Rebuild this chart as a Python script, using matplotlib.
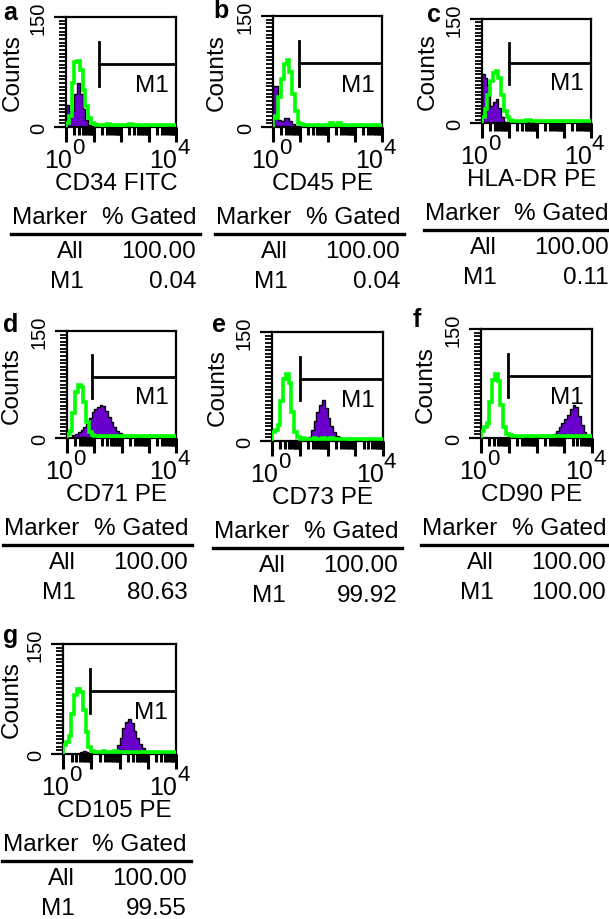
import numpy as np
import matplotlib
matplotlib.use("Agg")
import matplotlib.pyplot as plt
from matplotlib.lines import Line2D
from matplotlib.ticker import FixedLocator, LogLocator, MultipleLocator, NullFormatter
from matplotlib.transforms import blended_transform_factory

plt.rcParams["font.family"] = ["Liberation Sans", "DejaVu Sans"]

# panel contents
letters = ["a", "b", "c", "d", "e", "f", "g"]
antibodies = ["CD34 FITC", "CD45 PE", "HLA-DR PE", "CD71 PE", "CD73 PE", "CD90 PE", "CD105 PE"]
gated_all = ["100.00", "100.00", "100.00", "100.00", "100.00", "100.00", "100.00"]
gated_m1 = ["0.04", "0.04", "0.11", "80.63", "99.92", "100.00", "99.55"]
gate_m1 = [16, 9.3, 10, 8, 10, 9.5, 9.3]  # M1 gate start (channel)

# histogram counts, 40 bins of 0.1 decade from 10^0 to 10^4
purple_a = [30, 22, 22, 45, 60, 45, 25, 10, 3, 1, 0, 1, 0, 0, 0, 0, 1, 0, 0, 0,
            0, 0, 0, 0, 0, 0, 0, 0, 0, 0, 0, 0, 0, 0, 0, 0, 0, 0, 0, 0]
green_a = [5, 15, 60, 88, 90, 78, 50, 28, 12, 5, 4, 3, 3, 2, 3, 4, 3, 2, 3, 3,
           2, 3, 3, 4, 3, 2, 3, 3, 2, 3, 3, 3, 2, 3, 3, 2, 3, 3, 3, 3]
purple_b = [56, 55, 10, 8, 12, 12, 8, 4, 2, 1, 0, 0, 0, 0, 0, 0, 0, 0, 0, 0,
            0, 0, 0, 0, 0, 0, 0, 0, 0, 0, 0, 0, 0, 0, 0, 0, 0, 0, 0, 0]
green_b = [15, 12, 40, 65, 85, 90, 75, 45, 22, 6, 4, 3, 3, 2, 3, 3, 2, 3, 3, 2,
           3, 5, 3, 3, 5, 3, 2, 3, 3, 2, 3, 3, 2, 3, 3, 3, 2, 3, 3, 3]
purple_c = [70, 65, 55, 25, 30, 35, 22, 8, 2, 1, 0, 0, 0, 0, 0, 0, 0, 0, 0, 0,
            0, 0, 0, 0, 0, 0, 0, 0, 0, 0, 0, 0, 0, 0, 0, 0, 0, 0, 0, 0]
green_c = [8, 20, 40, 60, 72, 75, 65, 40, 18, 8, 4, 3, 3, 3, 2, 3, 5, 5, 3, 3,
           2, 3, 3, 2, 3, 3, 2, 3, 3, 2, 3, 3, 2, 3, 3, 2, 3, 3, 3, 3]
purple_d = [0, 0, 4, 6, 8, 11, 15, 20, 28, 36, 40, 43, 46, 45, 38, 30, 22, 15, 10, 7,
            4, 3, 2, 2, 1, 0, 0, 0, 0, 0, 0, 0, 0, 0, 0, 0, 0, 0, 0, 0]
green_d = [5, 10, 35, 65, 74, 72, 50, 22, 8, 4, 3, 3, 2, 3, 3, 2, 3, 3, 2, 3,
           2, 3, 3, 2, 3, 2, 3, 3, 2, 3, 2, 3, 2, 3, 3, 2, 3, 2, 3, 3]
purple_e = [0, 0, 0, 0, 0, 0, 0, 0, 2, 0, 0, 0, 0, 5, 15, 28, 40, 50, 56, 45,
            32, 20, 12, 7, 5, 3, 2, 0, 0, 0, 0, 0, 0, 0, 0, 0, 0, 0, 0, 0]
green_e = [12, 15, 22, 55, 85, 92, 80, 40, 12, 5, 3, 4, 3, 3, 3, 4, 3, 3, 4, 3,
           3, 4, 3, 3, 3, 3, 3, 3, 2, 3, 3, 3, 3, 2, 3, 3, 3, 3, 3, 3]
purple_f = [0, 0, 0, 0, 0, 0, 0, 0, 0, 0, 0, 0, 0, 0, 0, 0, 0, 0, 0, 0,
            0, 1, 2, 2, 3, 4, 6, 10, 15, 20, 26, 32, 40, 45, 42, 30, 18, 8, 4, 2]
green_f = [10, 15, 20, 50, 80, 88, 78, 45, 15, 5, 4, 3, 3, 3, 2, 3, 3, 3, 2, 3,
           3, 3, 2, 3, 3, 2, 3, 3, 3, 3, 3, 2, 3, 3, 2, 3, 3, 3, 2, 3]
purple_g = [0, 0, 0, 0, 0, 0, 3, 4, 3, 2, 1, 1, 1, 1, 1, 1, 1, 2, 5, 12,
            22, 35, 44, 48, 42, 32, 22, 14, 8, 4, 2, 0, 0, 0, 0, 0, 0, 0, 0, 0]
green_g = [12, 16, 25, 55, 80, 89, 85, 60, 30, 10, 4, 3, 3, 3, 4, 3, 3, 3, 4, 3,
           3, 3, 2, 3, 3, 3, 2, 3, 3, 3, 2, 3, 3, 2, 3, 3, 3, 3, 3, 3]

purples = [purple_a, purple_b, purple_c, purple_d, purple_e, purple_f, purple_g]
greens = [green_a, green_b, green_c, green_d, green_e, green_f, green_g]

# layout in pixels (left, top, right, bottom)
W, H = 609, 920
boxes = [(66, 18, 176, 128), (273, 17, 382, 128), (482, 20, 591, 124),
         (67, 332, 176, 439), (272, 333, 383, 442), (481, 330, 592, 439),
         (63, 645, 176, 755)]
letter_xy = [(3, 20), (213, 18), (427, 22), (3, 332), (212, 332), (413, 327), (3, 643)]
counts_x = [13, 217, 428, 12, 218, 426, 12]
table_left = [12, 216, 425, 4, 214, 422, 3]

PURPLE = "#6a00cc"
GREEN = "#00ff00"
FS = 17.5

edges = 10 ** (np.arange(41) * 0.1)


def fx(x):
    return x / W


def fy(y):
    return 1 - y / H


fig = plt.figure(figsize=(W / 100, H / 100), dpi=100)

for i in range(7):
    left, top, right, bottom = boxes[i]
    ax = fig.add_axes([fx(left), fy(bottom), (right - left) / W, (bottom - top) / H])
    ax.set_xscale("log")
    ax.set_xlim(1, 1e4)
    ax.set_ylim(0, 150)

    ax.stairs(purples[i], edges, fill=True, color=PURPLE, zorder=2)
    ax.stairs(purples[i], edges, color="black", lw=1.0, zorder=3)
    ax.stairs(greens[i], edges, color=GREEN, lw=2.6, zorder=4)

    # M1 gate
    g = gate_m1[i]
    ax.plot([g, g], [56, 116], color="black", lw=2, zorder=5)
    ax.plot([g, 1e4], [86, 86], color="black", lw=2, zorder=5)
    trans = blended_transform_factory(ax.transAxes, ax.transData)
    ax.text(0.93, 57, "M1", transform=trans, ha="right", va="center", fontsize=17.5, zorder=6)

    for sp in ax.spines.values():
        sp.set_linewidth(1.6)

    ax.xaxis.set_major_locator(LogLocator(base=10, numticks=10))
    ax.xaxis.set_minor_locator(LogLocator(base=10, subs=np.arange(2, 10), numticks=10))
    ax.xaxis.set_major_formatter(NullFormatter())
    ax.xaxis.set_minor_formatter(NullFormatter())
    ax.tick_params(axis="x", which="major", direction="out", length=11, width=2.2)
    ax.tick_params(axis="x", which="minor", direction="out", length=6, width=2.2)

    ax.yaxis.set_major_locator(FixedLocator([0, 150]))
    ax.yaxis.set_minor_locator(MultipleLocator(5))
    ax.set_yticklabels(["0", "150"], va="center")
    ax.tick_params(axis="y", which="major", direction="out", length=9, width=1.6,
                   pad=4, labelsize=14.5, labelrotation=90)
    ax.tick_params(axis="y", which="minor", direction="out", length=5, width=1.3)

    # decade labels 10^0 and 10^4
    for tx, sup, dx in [(left, "0", 6), (right, "4", 1)]:
        fig.text(fx(tx + dx), fy(bottom + 40), "10", ha="right", va="baseline", fontsize=18)
        fig.text(fx(tx + dx), fy(bottom + 26), sup, ha="left", va="baseline", fontsize=16)

    fig.text(fx((left + right) / 2 - 5), fy(bottom + 62), antibodies[i],
             ha="center", va="baseline", fontsize=FS)
    fig.text(fx(counts_x[i]), fy((top + bottom) / 2), "Counts", rotation=90,
             ha="center", va="center", fontsize=17.5)
    lx, ly = letter_xy[i]
    fig.text(fx(lx), fy(ly), letters[i], ha="left", va="baseline",
             fontsize=18, fontweight="bold")

    # gating statistics table
    tl = table_left[i]
    fig.text(fx(tl), fy(bottom + 96), "Marker", ha="left", va="baseline", fontsize=FS)
    fig.text(fx(tl + 184), fy(bottom + 96), "% Gated", ha="right", va="baseline", fontsize=FS)
    fig.add_artist(Line2D([fx(tl - 1), fx(tl + 188)], [fy(bottom + 107)] * 2,
                          color="black", lw=2.4))
    fig.text(fx(tl + 72), fy(bottom + 130), "All", ha="right", va="baseline", fontsize=FS)
    fig.text(fx(tl + 184), fy(bottom + 130), gated_all[i], ha="right", va="baseline", fontsize=FS)
    fig.text(fx(tl + 72), fy(bottom + 160), "M1", ha="right", va="baseline", fontsize=FS)
    fig.text(fx(tl + 184), fy(bottom + 160), gated_m1[i], ha="right", va="baseline", fontsize=FS)

fig.savefig("out.png", dpi=100)
